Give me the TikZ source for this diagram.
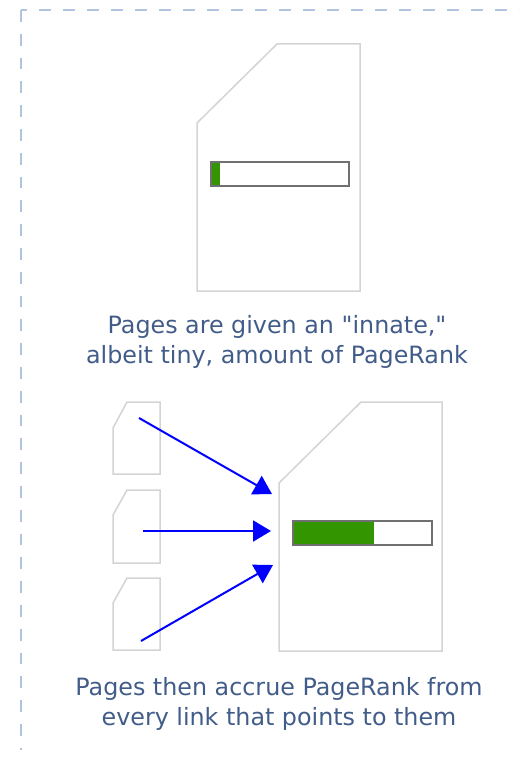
\documentclass[tikz,border=0pt]{standalone}
\usepackage{fontspec}
\newfontfamily\capfont{DejaVu Sans}
\usetikzlibrary{arrows.meta}
\definecolor{framecol}{RGB}{176,196,222}
\definecolor{docgray}{RGB}{212,212,212}
\definecolor{bargray}{RGB}{112,112,112}
\definecolor{rankgreen}{RGB}{51,150,0}
\definecolor{txtcol}{RGB}{66,92,138}
\definecolor{linkblue}{RGB}{0,0,255}
\begin{document}
\begin{tikzpicture}[x=1pt,y=-1pt,
  page/.style={draw=docgray, line width=1.5pt, fill=white, line join=miter},
  barframe/.style={draw=bargray, line width=1.6pt},
  rankfill/.style={fill=rankgreen},
  link/.style={draw=linkblue, line width=2pt, -{Triangle[length=18pt,width=21pt]}},
  caption/.style={text=txtcol, font=\capfont\fontsize{23.8}{30}\selectfont, align=center, inner sep=0pt},
  border/.style={draw=framecol, line width=2pt}
]
\useasboundingbox (0,0) rectangle (519,757);

% dashed border
\coordinate (corner) at (21,10);
\coordinate (bottomend) at (21,750);
\coordinate (rightend) at (519,10);
\draw[border, dash pattern=on 11.8pt off 12pt] (corner) -- (bottomend);
\draw[border, dash pattern=on 12pt off 12pt, dash phase=6pt] (corner) -- (rightend);

% top page
\draw[page] (197,123) -- (277,44) -- (360,44) -- (360,291) -- (197,291) -- cycle;
\fill[rankfill] (211,162) rectangle (220,186);
\draw[barframe] (211,162) rectangle (349,186);
\node[caption] (cap1) at (277,342) {Pages are given an "innate,"\\albeit tiny, amount of PageRank};

% small pages
\draw[page] (113,428) -- (127,402) -- (160,402) -- (160,474) -- (113,474) -- cycle;
\draw[page] (113,515) -- (127,490) -- (160,490) -- (160,563) -- (113,563) -- cycle;
\draw[page] (113,603) -- (127,578) -- (160,578) -- (160,650) -- (113,650) -- cycle;

% big page
\draw[page] (279,483) -- (361,402) -- (442,402) -- (442,651) -- (279,651) -- cycle;
\fill[rankfill] (293,521) rectangle (374,545);
\draw[barframe] (293,521) rectangle (432,545);

% links
\coordinate (s1) at (139,418);
\coordinate (t1) at (272,494);
\coordinate (s2) at (143,531);
\coordinate (t2) at (271,531);
\coordinate (s3) at (141,641);
\coordinate (t3) at (273,565);
\draw[link] (s1) -- (t1);
\draw[link] (s2) -- (t2);
\draw[link] (s3) -- (t3);

\node[caption] (cap2) at (279,704) {Pages then accrue PageRank from\\every link that points to them};
\end{tikzpicture}
\end{document}
